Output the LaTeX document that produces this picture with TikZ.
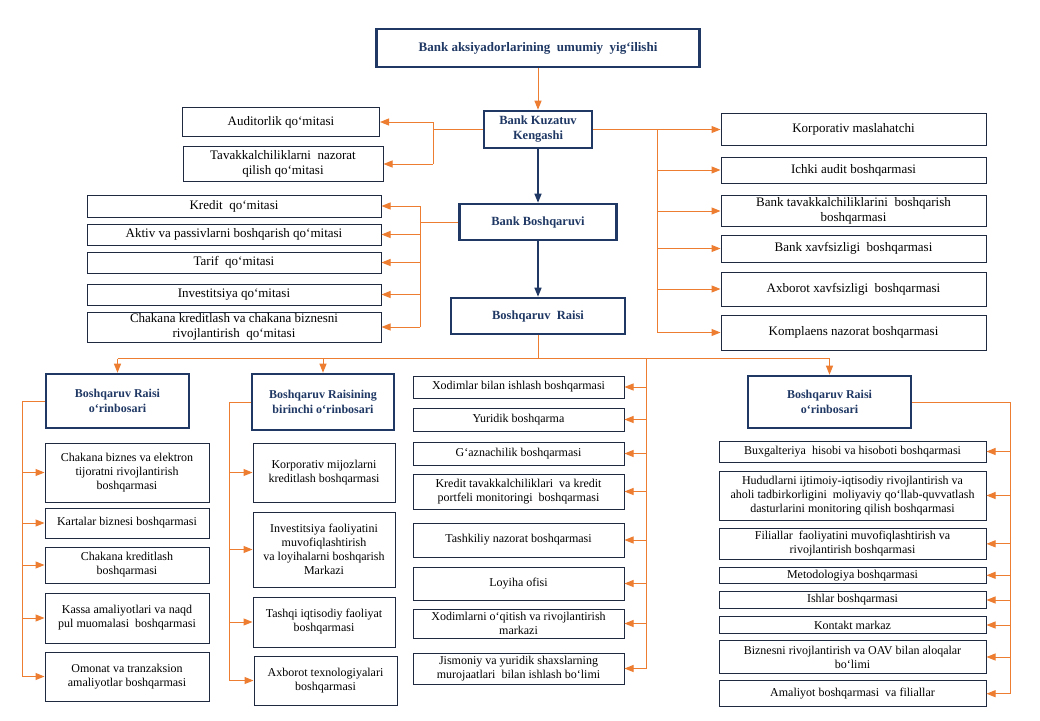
\documentclass[tikz,border=0pt]{standalone}
\usepackage{fontspec}
\setmainfont{Liberation Serif}
\usetikzlibrary{arrows.meta}

\definecolor{navy}{HTML}{1F3864}
\definecolor{ink}{HTML}{1F2A40}
\definecolor{amber}{HTML}{ED7D31}

\tikzset{
  wh/.style 2 args={minimum width=#1pt, minimum height=#2pt},
  board/.style={draw=navy, line width=2.6pt, text=navy, align=center, inner sep=0pt,
    font=\fontsize{12.5}{15}\selectfont\bfseries},
  unit/.style={draw=ink, line width=1pt, align=center, inner sep=0pt,
    font=\fontsize{13}{15.5}\selectfont},
  subunit/.style={unit, font=\fontsize{12}{14}\selectfont},
  link/.style={draw=amber, line width=1pt},
  flow/.style={link, -{Triangle[length=9pt,width=7pt]}},
  chain/.style={draw=navy, line width=1.4pt, -{Triangle[length=9pt,width=7pt]}},
}

\begin{document}
\begin{tikzpicture}[x=1pt, y=-1pt]
  \useasboundingbox[fill=white] (0,0) rectangle (1040,720);

  % top of the chart
  \node[board, wh={323}{38}, font=\fontsize{13}{15}\selectfont\bfseries] (meeting) at (538,48)
    {Bank aksiyadorlarining\ \ umumiy\ \ yig`ilishi};
  \node[board, wh={108}{37}] (kengash) at (538,129.5) {Bank Kuzatuv\\Kengashi};
  \node[board, wh={157}{36}] (boshq) at (538,222) {Bank Boshqaruvi};
  \node[board, wh={174}{36}] (raisi) at (538,316) {Boshqaruv\ \ Raisi};

  % committees of the board
  \node[unit, wh={197}{29}] (audit) at (281,122) {Auditorlik qo`mitasi};
  \node[unit, wh={200}{35}] (tav) at (283,164) {Tavakkalchiliklarni\ \ nazorat\\qilish qo`mitasi};

  \node[unit, wh={265}{32}] (korp) at (853.5,129.5) {Korporativ maslahatchi};
  \node[unit, wh={265}{26}] (ichki) at (853.5,170) {Ichki\ audit boshqarmasi};
  \node[unit, wh={265}{31}] (btav) at (853.5,211) {Bank tavakkalchiliklarini\ \ boshqarish\\boshqarmasi};
  \node[unit, wh={265}{27}] (bxav) at (853.5,248.5) {Bank xavfsizligi\ \ boshqarmasi};
  \node[unit, wh={265}{34}] (axav) at (853.5,289) {Axborot xavfsizligi\ \ boshqarmasi};
  \node[unit, wh={265}{35}] (kompl) at (853.5,332.5) {Komplaens nazorat boshqarmasi};

  % committees of the management
  \node[unit, wh={294}{22}] (kredit) at (234,206) {Kredit\ \ qo`mitasi};
  \node[unit, wh={294}{21}] (aktiv) at (234,234.5) {Aktiv va passivlarni boshqarish qo`mitasi};
  \node[unit, wh={294}{21}] (tarif) at (234,262.5) {Tarif\ \ qo`mitasi};
  \node[unit, wh={294}{21}] (invest) at (234,294.5) {Investitsiya qo`mitasi};
  \node[unit, wh={294}{30}, font=\fontsize{13}{14.5}\selectfont] (chak) at (234,327)
    {Chakana kreditlash va chakana biznesni\\rivojlantirish\ \ qo`mitasi};

  % deputies
  \node[board, wh={143}{54}, font=\fontsize{12}{15}\selectfont\bfseries] (dep1) at (117.5,401) {Boshqaruv Raisi\\o`rinbosari};
  \node[board, wh={142}{56}, font=\fontsize{12}{15}\selectfont\bfseries] (dep2) at (323,402) {Boshqaruv Raisining\\birinchi o`rinbosari};
  \node[board, wh={163}{52}, font=\fontsize{12}{15}\selectfont\bfseries] (dep3) at (829.5,402) {Boshqaruv Raisi\\o`rinbosari};

  % first column
  \node[subunit, wh={164}{59}] (c1a) at (127,472.5) {Chakana biznes va elektron\\tijoratni rivojlantirish\\boshqarmasi};
  \node[subunit, wh={164}{30}] (c1b) at (127,523) {Kartalar biznesi boshqarmasi};
  \node[subunit, wh={164}{36}] (c1c) at (127,565) {Chakana kreditlash\\boshqarmasi};
  \node[subunit, wh={164}{50}] (c1d) at (127,618) {Kassa amaliyotlari va naqd\\pul muomalasi\ \ boshqarmasi};
  \node[subunit, wh={164}{49}] (c1e) at (127,676.5) {Omonat va tranzaksion\\amaliyotlar boshqarmasi};

  % second column
  \node[subunit, wh={142}{59}] (c2a) at (324,472.5) {Korporativ mijozlarni\\kreditlash boshqarmasi};
  \node[subunit, wh={142}{75}] (c2b) at (324,549.5) {Investitsiya faoliyatini\\muvofiqlashtirish\\va loyihalarni boshqarish\\Markazi};
  \node[subunit, wh={142}{50}] (c2c) at (324,622) {Tashqi iqtisodiy faoliyat\\boshqarmasi};
  \node[subunit, wh={143}{49}] (c2d) at (325.5,680.5) {Axborot texnologiyalari\\boshqarmasi};

  % third column
  \node[subunit, wh={211}{22}] (c3a) at (518.5,387) {Xodimlar bilan ishlash boshqarmasi};
  \node[subunit, wh={211}{23}] (c3b) at (518.5,419.5) {Yuridik boshqarma};
  \node[subunit, wh={211}{23}] (c3c) at (518.5,453.5) {G`aznachilik boshqarmasi};
  \node[subunit, wh={211}{35}] (c3d) at (518.5,491.5) {Kredit tavakkalchiliklari\ \ va kredit\\portfeli monitoringi\ \ boshqarmasi};
  \node[subunit, wh={211}{34}] (c3e) at (518.5,540) {Tashkiliy nazorat boshqarmasi};
  \node[subunit, wh={211}{33}] (c3f) at (518.5,583.5) {Loyiha ofisi};
  \node[subunit, wh={211}{29}] (c3g) at (518.5,623.5) {Xodimlarni o`qitish va rivojlantirish\\markazi};
  \node[subunit, wh={211}{31}] (c3h) at (518.5,668.5) {Jismoniy va yuridik shaxslarning\\murojaatlari\ \ bilan ishlash bo`limi};

  % fourth column
  \node[subunit, wh={267}{21}] (c4a) at (852.5,451.5) {Buxgalteriya\ \ hisobi va hisoboti boshqarmasi};
  \node[subunit, wh={267}{49}] (c4b) at (852.5,495.5) {Hududlarni ijtimoiy-iqtisodiy rivojlantirish va\\aholi tadbirkorligini\ \ moliyaviy qo`llab-quvvatlash\\dasturlarini monitoring qilish boshqarmasi};
  \node[subunit, wh={267}{31}] (c4c) at (852.5,543.8) {Filiallar\ \ faoliyatini muvofiqlashtirish va\\rivojlantirish boshqarmasi};
  \node[subunit, wh={267}{16}] (c4d) at (852.5,575.3) {Metodologiya boshqarmasi};
  \node[subunit, wh={267}{17}] (c4e) at (852.5,600) {Ishlar boshqarmasi};
  \node[subunit, wh={267}{17}] (c4f) at (852.5,625) {Kontakt markaz};
  \node[subunit, wh={267}{33}] (c4g) at (852.5,657) {Biznesni rivojlantirish va OAV bilan aloqalar\\bo`limi};
  \node[subunit, wh={267}{26}] (c4h) at (852.5,693.7) {Amaliyot boshqarmasi\ \ va filiallar};

  % bus lines
  \coordinate (busA) at (433,0);
  \coordinate (busB) at (657,0);
  \coordinate (busC) at (420,0);
  \coordinate (hub) at (538,358.5);
  \coordinate (midbus) at (646,358.5);
  \coordinate (busL) at (22,0);
  \coordinate (busM) at (229,0);
  \coordinate (busR) at (1010,0);

  % main chain
  \draw[flow] (meeting) -- (kengash);
  \draw[chain] (kengash) -- (boshq);
  \draw[chain] (boshq) -- (raisi);

  % board committees
  \draw[link] (kengash.west) -- (busA |- kengash.west);
  \draw[link] (busA |- audit.east) -- (busA |- tav.east);
  \foreach \n in {audit,tav}
    \draw[flow] (busA |- \n.east) -- (\n.east);
  \draw[link] (kengash.east) -- (busB |- kengash.east) -- (busB |- kompl.west);
  \foreach \n in {korp,ichki,btav,bxav,axav,kompl}
    \draw[flow] (busB |- \n.west) -- (\n.west);

  % management committees
  \draw[link] (boshq.west) -- (busC |- boshq.west);
  \draw[link] (busC |- kredit.east) -- (busC |- chak.east);
  \foreach \n in {kredit,aktiv,tarif,invest,chak}
    \draw[flow] (busC |- \n.east) -- (\n.east);

  % chairman
  \draw[link] (raisi.south) -- (hub);
  \draw[link] (dep1.north |- hub) -- (dep3.north |- hub);
  \foreach \n in {dep1,dep2,dep3}
    \draw[flow] (\n.north |- hub) -- (\n.north);
  \draw[link] (midbus) -- (midbus |- c3h.east);
  \foreach \n in {c3a,c3b,c3c,c3d,c3e,c3f,c3g,c3h}
    \draw[flow] (midbus |- \n.east) -- (\n.east);

  % deputies
  \draw[link] (dep1.west) -- (busL |- dep1.west) -- (busL |- c1e.west);
  \foreach \n in {c1a,c1b,c1c,c1d,c1e}
    \draw[flow] (busL |- \n.west) -- (\n.west);
  \draw[link] (dep2.west) -- (busM |- dep2.west) -- (busM |- c2d.west);
  \foreach \n in {c2a,c2b,c2c,c2d}
    \draw[flow] (busM |- \n.west) -- (\n.west);
  \draw[link] (dep3.east) -- (busR |- dep3.east) -- (busR |- c4h.east);
  \foreach \n in {c4a,c4b,c4c,c4d,c4e,c4f,c4g,c4h}
    \draw[flow] (busR |- \n.east) -- (\n.east);
\end{tikzpicture}
\end{document}
